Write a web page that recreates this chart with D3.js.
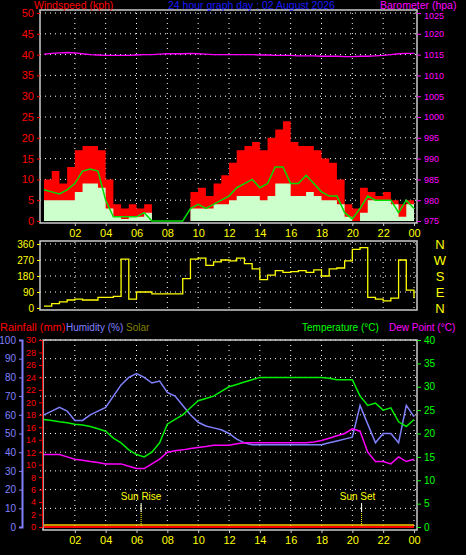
<!DOCTYPE html><html><head><meta charset="utf-8">
<script src="https://cdn.jsdelivr.net/npm/d3@7"></script>
<style>body{margin:0;background:#000}svg{display:block}text{font-family:"Liberation Sans",sans-serif;font-size:10px}</style></head><body>
<script>
const hours=d3.range(0,24.01,0.5);
const gust=[10,12,9,13,17,18,18,17,10,4,3,4,3,4,0,0,0,0,0,7,8,6,9,11,14,17,18,19,17,20,22,24,19,18,18,17,15,14,10,4,3,8,7,6,7,5,4,5,3];
const wind=[5,5,5,5,7,9,9,8,3,1,0.5,1,1,2,0,0,0,0,0,3,3,3,4,4,5,6,6,6,5,6,9,9,6,6,7,6,5,5,4,1,0,2,5,5,5,4,1,4,3];
const windAvg=[7.5,7,6.5,7.5,9,12,12.5,12,5,1,1,1,1,2,0,0,0,0,0,3,4,3,4,5,6,8,9,10,8,9,13,13,9,9,11,9,7,6,6,2,0.5,3,6,5,5,5,2,5,3];
const baro=[1015.1,1015.3,1015.4,1015.5,1015.4,1015.2,1015.0,1014.9,1014.8,1014.8,1014.8,1014.8,1014.9,1015.0,1015.0,1015.1,1015.2,1015.2,1015.2,1015.3,1015.2,1015.1,1015.0,1015.0,1015.0,1015.0,1015.0,1015.0,1014.9,1014.9,1014.8,1014.8,1014.8,1014.7,1014.7,1014.7,1014.6,1014.6,1014.6,1014.5,1014.5,1014.6,1014.6,1014.7,1014.8,1015.0,1015.2,1015.3,1015.3];
const dir=[10,25,35,45,50,45,45,60,60,65,275,50,90,90,80,80,80,80,165,275,280,240,260,270,265,280,250,220,160,185,210,200,205,210,200,215,180,220,225,265,330,340,60,50,40,55,270,100,55];
const humidity=[60,62,64,62,57,57,60,62,64,70,76,80,82,80,77,78,72,70,65,60,56,54,53,52,50,47,45,44,44,44,44,44,44,44,44,44,44,45,46,47,48,65,55,45,50,50,45,65,59];
const temp=[23,22.8,22.5,22.3,22,21.8,21.5,21,20.5,19,18,16.5,15.5,15,16,18,22,23,24,25.5,27,27.5,28,29,30,30.5,31,31.5,32,32,32,32,32,32,32,32,32,31.8,31.5,31.5,31.5,28,26,26.5,25,25.5,22.5,21.5,23];
const dew=[15.5,15.5,15.5,15,14.5,14.3,14,13.8,13.5,13.5,13.5,13,12.5,12.5,13.5,14.5,16,16.3,16.5,16.8,17,17.2,17.5,17.5,17.5,17.8,18,18,18,18,18,18,18,18,18,18.2,18.5,19,19.5,20,21,20.5,16,14,14,13.5,15,14,14.5];
const rain=hours.map(()=>0);
const hourTicks=[2,4,6,8,10,12,14,16,18,20,22,24];
const windTicks=d3.range(0,51,5), baroTicks=d3.range(975,1026,5), dirTicks=[0,90,180,270,360];
const humTicks=d3.range(0,101,10), rainTicks=d3.range(0,31,2), tempTicks=d3.range(0,41,5);
const compass=["N","E","S","W","N"];
const sunRise=6.3, sunSet=20.6;

const W=466,H=555;
const svg=d3.select("body").append("svg").attr("width",W).attr("height",H);
svg.append("rect").attr("width",W).attr("height",H).attr("fill","#000");
const x=d3.scaleLinear().domain([0,24]).range([44,414]);
const L=40,R=417;
function frame(y0,y1){svg.append("rect").attr("x",L).attr("y",y0).attr("width",R-L).attr("height",y1-y0).attr("fill","none").attr("stroke","#ccc").attr("stroke-width",1.5);}
function grid(ys,y0,y1){
  const g=svg.append("g").attr("stroke","#fff").attr("stroke-dasharray","1,4").attr("stroke-width",1);
  ys.forEach(v=>g.append("line").attr("x1",L).attr("x2",R).attr("y1",v).attr("y2",v));
  hourTicks.forEach(h=>g.append("line").attr("x1",x(h)).attr("x2",x(h)).attr("y1",y0).attr("y2",y1));
}
function txt(s,xx,yy,c,anchor,size){return svg.append("text").attr("x",xx).attr("y",yy).attr("fill",c).attr("text-anchor",anchor||"start").style("font-size",(size||10)+"px").text(s);}
const fmtH=h=>String(h%24).padStart(2,"0");

// ---------- top panel
const yW=d3.scaleLinear().domain([0,50]).range([221,13]);
const yB=d3.scaleLinear().domain([975,1025]).range([221,13]);
grid(windTicks.slice(1).map(yW),13,221);
const area=(arr)=>d3.area().x((d,i)=>x(hours[i])).y0(yW(0)).y1(d=>yW(d)).curve(d3.curveStepAfter)(arr);
svg.append("path").attr("d",area(gust)).attr("fill","#ff0000");
svg.append("path").attr("d",area(wind)).attr("fill","#ccffcc");
svg.append("path").attr("d",d3.line().x((d,i)=>x(hours[i])).y(d=>yW(d))(windAvg)).attr("fill","none").attr("stroke","#00dd00").attr("stroke-width",1.5);
svg.append("path").attr("d",d3.line().x((d,i)=>x(hours[i])).y(d=>yB(d))(baro)).attr("fill","none").attr("stroke","#ff00ff").attr("stroke-width",1.3);
frame(10,223);
svg.append("g").attr("transform",`translate(${L},0)`).call(d3.axisLeft(yW).tickValues(windTicks).tickSize(3)).call(g=>{g.select(".domain").remove();g.selectAll("line").attr("stroke","#f00");g.selectAll("text").attr("fill","#f00").style("font-size","11px");});
svg.append("g").attr("transform",`translate(${R},0)`).call(d3.axisRight(yB).tickValues(baroTicks).tickFormat(d3.format("d")).tickSize(4)).call(g=>{g.select(".domain").remove();g.selectAll("line").attr("stroke","#f0f");g.selectAll("text").attr("fill","#f0f").style("font-size","9px").filter(d=>d===1025).attr("dy","0.6em");});
svg.append("g").attr("transform",`translate(0,223)`).call(d3.axisBottom(x).tickValues(hourTicks).tickFormat(fmtH).tickSize(3)).call(g=>{g.select(".domain").remove();g.selectAll("line").attr("stroke","#ccc");g.selectAll("text").attr("fill","#ff0").style("font-size","11px");});
txt("Windspeed (kph)",34,9,"#f00","start",10.5);
txt("24 hour graph day : 02 August 2026",168,9,"#1a1aff","start",10.5);
txt("Barometer (hpa)",380,9,"#f0f","start",10.5);

// ---------- middle panel
const yD=d3.scaleLinear().domain([0,360]).range([308,244]);
grid(dirTicks.slice(1).map(yD),242,310);
svg.append("path").attr("d",d3.line().x((d,i)=>x(hours[i])).y(d=>yD(d)).curve(d3.curveStepAfter)(dir)).attr("fill","none").attr("stroke","#ffff00").attr("stroke-width",1.3);
svg.append("rect").attr("x",L).attr("y",241).attr("width",R-L).attr("height",69).attr("fill","none").attr("stroke","#ccc").attr("stroke-width",1.5);
svg.append("g").attr("transform",`translate(${L},0)`).call(d3.axisLeft(yD).tickValues(dirTicks).tickSize(3)).call(g=>{g.select(".domain").remove();g.selectAll("line").attr("stroke","#ff0");g.selectAll("text").attr("fill","#ff0").style("font-size","10px");});
dirTicks.forEach((v,i)=>txt(compass[i],440,yD(v)+5,"#ff0","middle",13));

// ---------- bottom panel
const yH=d3.scaleLinear().domain([0,100]).range([527,340]);
const yR=d3.scaleLinear().domain([0,30]).range([527,340]);
const yT=d3.scaleLinear().domain([0,40]).range([527,340]);
grid(humTicks.slice(1).map(yH),340,527);
[sunRise,sunSet].forEach(s=>svg.append("line").attr("x1",x(s)).attr("x2",x(s)).attr("y1",505).attr("y2",527).attr("stroke","#ff0").attr("stroke-dasharray","1,1"));
[sunRise,sunSet].forEach(s=>svg.append("line").attr("x1",x(s)).attr("x2",x(s)).attr("y1",503).attr("y2",512).attr("stroke","#fff"));
txt("Sun Rise",x(sunRise),500,"#ff0","middle",10);
txt("Sun Set",x(sunSet)-4,500,"#ff0","middle",10);
const ln=(arr,sc,c,w)=>svg.append("path").attr("d",d3.line().x((d,i)=>x(hours[i])).y(d=>sc(d))(arr)).attr("fill","none").attr("stroke",c).attr("stroke-width",w||1.5);
ln(rain,v=>yR(v)-2,"#ffcc00",1.5);
ln(rain,yR,"#ff0000",2);
ln(humidity,yH,"#8080ff");
ln(temp,yT,"#00ee00");
ln(dew,yT,"#ff00ff");
svg.append("rect").attr("x",43).attr("y",340).attr("width",R-43).attr("height",190).attr("fill","none").attr("stroke","#ccc").attr("stroke-width",1.5);
svg.append("g").attr("transform",`translate(22,0)`).call(d3.axisLeft(yH).tickValues(humTicks).tickSize(3)).call(g=>{g.select(".domain").attr("stroke","#8080ff").attr("stroke-width",2);g.selectAll("line").attr("stroke","#8080ff");g.selectAll("text").attr("fill","#8080ff").style("font-size","10px");});
svg.append("g").attr("transform",`translate(42,0)`).call(d3.axisLeft(yR).tickValues(rainTicks).tickSize(3)).call(g=>{g.select(".domain").attr("stroke","#f00");g.selectAll("line").attr("stroke","#f00");g.selectAll("text").attr("fill","#f00").style("font-size","9px");});
svg.append("g").attr("transform",`translate(${R},0)`).call(d3.axisRight(yT).tickValues(tempTicks).tickSize(4)).call(g=>{g.select(".domain").remove();g.selectAll("line").attr("stroke","#0f0");g.selectAll("text").attr("fill","#0f0").style("font-size","10px");});
svg.append("g").attr("transform",`translate(0,530)`).call(d3.axisBottom(x).tickValues(hourTicks).tickFormat(fmtH).tickSize(3)).call(g=>{g.select(".domain").remove();g.selectAll("line").attr("stroke","#ccc");g.selectAll("text").attr("fill","#ff0").style("font-size","11px");});
txt("Rainfall (mm)",0,331,"#f00","start",11);
txt("Humidity (%)",66,331,"#8080ff","start",10);
txt("Solar",126,331,"#808000","start",10);
txt("Temperature (°C)",302,331,"#00ff00","start",10);
txt("Dew Point (°C)",389,331,"#ff00ff","start",10);
</script></body></html>
